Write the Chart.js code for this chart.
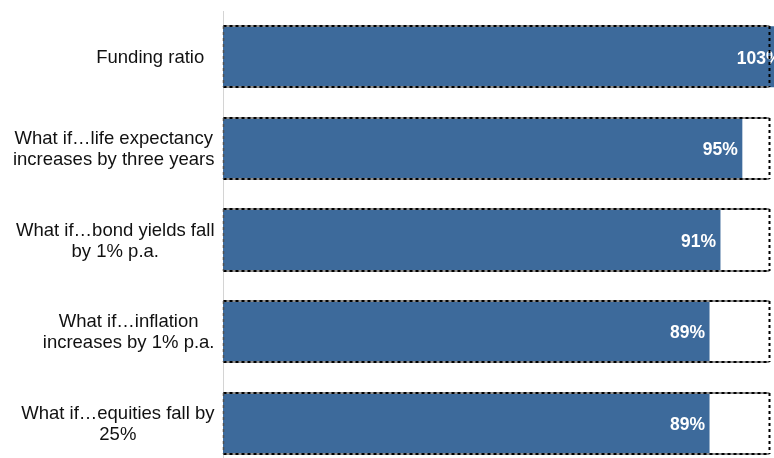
<!DOCTYPE html>
<html>
<head>
<meta charset="utf-8">
<script src="https://cdn.jsdelivr.net/npm/chart.js@4/dist/chart.umd.min.js"></script>
<style>
  html, body { margin: 0; padding: 0; background: #ffffff; overflow: hidden; }
  #wrap { width: 774px; height: 458px; overflow: hidden; position: relative; }
  canvas { display: block; }
</style>
</head>
<body>
<div id="wrap"><canvas id="chart" width="797" height="470"></canvas></div>
<script>
// Scenario names (one entry per line of the label)
const scenarios = [
  ["Funding ratio  "],
  ["What if…life expectancy", "increases by three years"],
  ["What if…bond yields fall", "by 1% p.a."],
  ["What if…inflation", "increases by 1% p.a."],
  ["What if…equities fall by", "25%"]
];
// Funding ratio under each scenario, in percent
const fundingRatio = [103, 95, 91, 89, 89];
// Fully funded reference level, in percent
const fullyFunded = [100, 100, 100, 100, 100];

const BAR_BLUE = '#3d6a9b';
const LABEL_FONT = '18.5px "Liberation Sans", Arial, sans-serif';
const VALUE_FONT = 'bold 17.5px "Liberation Sans", Arial, sans-serif';

// Category labels: each block is right-aligned, its lines centred on each other
const scenarioLabels = {
  id: 'scenarioLabels',
  afterDraw(chart) {
    const { ctx } = chart;
    const yScale = chart.scales.y;
    const right = 214.5;
    const lineH = 21;
    ctx.save();
    ctx.font = LABEL_FONT;
    ctx.fillStyle = '#111111';
    ctx.textAlign = 'center';
    ctx.textBaseline = 'middle';
    scenarios.forEach((lines, i) => {
      const cy = yScale.getPixelForTick(i) + 1;
      const widest = Math.max(...lines.map(l => ctx.measureText(l).width));
      const cx = right - widest / 2;
      const top = cy - (lines.length - 1) * lineH / 2;
      lines.forEach((l, k) => ctx.fillText(l, cx, top + k * lineH));
    });
    ctx.restore();
  }
};

// Value labels inside the end of each bar, then the dashed 100% frames on top
const barDecor = {
  id: 'barDecor',
  afterDatasetsDraw(chart) {
    const { ctx } = chart;
    const ratioMeta = chart.getDatasetMeta(0);
    const frameMeta = chart.getDatasetMeta(1);

    ctx.save();
    ctx.font = VALUE_FONT;
    ctx.fillStyle = '#ffffff';
    ctx.textAlign = 'right';
    ctx.textBaseline = 'middle';
    ratioMeta.data.forEach((el, i) => {
      const { x, y } = el.getProps(['x', 'y'], true);
      ctx.fillText(fundingRatio[i] + '%', x - 4.5, y + 2);
    });
    ctx.restore();

    ctx.save();
    frameMeta.data.forEach(el => {
      const { x, y, base, height } = el.getProps(['x', 'y', 'base', 'height'], true);
      const top = Math.round(y - height / 2);
      const bottom = Math.round(y + height / 2);
      const left = Math.round(base) + 0.5;
      const right = Math.round(x) - 0.5;

      // grey underlay for the top, bottom and left edges
      ctx.setLineDash([]);
      ctx.lineWidth = 2;
      ctx.strokeStyle = '#8c8c8c';
      ctx.beginPath();
      ctx.moveTo(left, top); ctx.lineTo(right, top);
      ctx.moveTo(left, bottom); ctx.lineTo(right, bottom);
      ctx.stroke();

      // black dashes over it
      ctx.setLineDash([3, 3]);
      ctx.strokeStyle = '#000000';
      ctx.beginPath();
      ctx.moveTo(left, top); ctx.lineTo(right, top);
      ctx.moveTo(left, bottom); ctx.lineTo(right, bottom);
      ctx.stroke();

      // dashed grey left edge
      ctx.lineWidth = 1.5;
      ctx.strokeStyle = '#505050';
      ctx.beginPath();
      ctx.moveTo(left, top); ctx.lineTo(left, bottom);
      ctx.stroke();

      // dotted right edge at 100%
      ctx.lineWidth = 2;
      ctx.strokeStyle = '#000000';
      ctx.beginPath();
      ctx.moveTo(right, top); ctx.lineTo(right, bottom);
      ctx.stroke();
    });
    ctx.restore();
  }
};

new Chart(document.getElementById('chart'), {
  type: 'bar',
  data: {
    labels: scenarios,
    datasets: [
      {
        label: 'Funding ratio',
        data: fundingRatio,
        backgroundColor: BAR_BLUE,
        borderWidth: 0,
        grouped: false,
        barPercentage: 0.666,
        categoryPercentage: 1.0,
        order: 1
      },
      {
        label: 'Fully funded',
        data: fullyFunded,
        backgroundColor: 'rgba(0,0,0,0)',
        borderWidth: 0,
        grouped: false,
        barPercentage: 0.666,
        categoryPercentage: 1.0,
        order: 2
      }
    ]
  },
  options: {
    indexAxis: 'y',
    responsive: false,
    animation: false,
    devicePixelRatio: 1,
    layout: { padding: { top: 11, bottom: 1, left: 0, right: 0 } },
    plugins: {
      legend: { display: false },
      tooltip: { enabled: false }
    },
    scales: {
      x: {
        display: false,
        min: 0,
        max: 105
      },
      y: {
        display: true,
        grid: { display: false },
        border: { display: true, color: '#d4d4d4', width: 1 },
        ticks: { display: false },
        afterFit(scale) { scale.width = 223; }
      }
    }
  },
  plugins: [scenarioLabels, barDecor]
});
</script>
</body>
</html>
